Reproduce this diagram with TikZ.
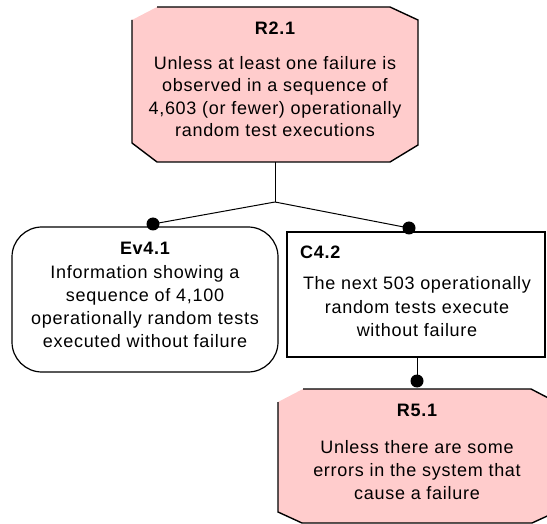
\documentclass[tikz,border=0pt]{standalone}
\usepackage{fontspec}
\setmainfont{Liberation Sans}[LetterSpace=4]
\usetikzlibrary{calc}
\definecolor{pinkfill}{HTML}{FFCCCC}
\begin{document}
\begin{tikzpicture}[x=1pt,y=-1pt,
  frame/.style={inner sep=0pt, outer sep=0pt, shape=rectangle},
  title/.style={font=\fontsize{18}{22}\selectfont\bfseries, inner sep=0pt},
  body/.style={font=\fontsize{18}{22.5}\selectfont, align=center, inner sep=0pt},
  conn/.style={line width=1pt, black},
  edge/.style={line width=1.4pt, black, line join=miter},
  dot/.style={circle, fill=black, inner sep=0pt, minimum size=13pt}]
\useasboundingbox (0,0) rectangle (547,524);
\clip (0,0) rectangle (547,524);

% ---------- R2.1 ----------
\node[frame, minimum width=286pt, minimum height=155pt] (r21) at (275,84.5) {};
\fill[pinkfill] ($(r21.north west)+(25,0)$) -- ($(r21.north east)+(-28,0)$)
  -- ($(r21.north east)+(0,13)$) -- ($(r21.south east)+(0,-17)$)
  -- ($(r21.south east)+(-28,0)$) -- ($(r21.south west)+(25,0)$)
  -- ($(r21.south west)+(0,-19)$) -- ($(r21.north west)+(0,13)$) -- cycle;
\draw[edge] ($(r21.north west)+(0,13)$) -- ($(r21.south west)+(0,-19)$)
  -- ($(r21.south west)+(25,0)$) -- ($(r21.south east)+(-28,0)$)
  -- ($(r21.south east)+(0,-17)$) -- ($(r21.north east)+(0,13)$)
  -- ($(r21.north east)+(-28,0)$) -- ($(r21.north west)+(25,0)$);
\node[title] (r21t) at (275,28) {R2.1};
\node[body] (r21b) at (275,96.5) {Unless at least one failure is\\observed in a sequence of\\4,603 (or fewer) operationally\\random test executions};

% ---------- Ev4.1 ----------
\node[frame, minimum width=266pt, minimum height=145pt] (ev41) at (145,299.5) {};
\draw[edge, line width=1.2pt, fill=white, rounded corners=30pt]
  (ev41.north west) rectangle (ev41.south east);
\node[title] (ev41t) at (145,248) {Ev4.1};
\node[body, font=\fontsize{18}{23}\selectfont] (ev41b) at (145,306.5) {Information showing a\\sequence of 4,100\\operationally random tests\\executed without failure};

% ---------- C4.2 ----------
\node[frame, draw, line width=1.2pt, fill=white, minimum width=258pt, minimum height=125pt] (c42) at (416,294.5) {};
\node[title, anchor=west] (c42t) at (300,252) {C4.2};
\node[body, font=\fontsize{18}{23.5}\selectfont] (c42b) at (417,307) {The next 503 operationally\\random tests execute\\without failure};

% ---------- R5.1 ----------
\node[frame, minimum width=278pt, minimum height=134pt] (r51) at (417,456) {};
\fill[pinkfill] ($(r51.north west)+(25,0)$) -- ($(r51.north east)+(-25,0)$)
  -- ($(r51.north east)+(0,13)$) -- ($(r51.south east)+(0,-11)$)
  -- ($(r51.south east)+(-24,0)$) -- ($(r51.south west)+(24,0)$)
  -- ($(r51.south west)+(0,-11)$) -- ($(r51.north west)+(0,13)$) -- cycle;
\draw[edge] ($(r51.north west)+(0,13)$) -- ($(r51.south west)+(0,-11)$)
  -- ($(r51.south west)+(24,0)$) -- ($(r51.south east)+(-24,0)$)
  -- ($(r51.south east)+(0,-11)$) -- ($(r51.north east)+(0,13)$)
  -- ($(r51.north east)+(-25,0)$) -- ($(r51.north west)+(25,0)$);
\node[title] (r51t) at (417,410) {R5.1};
\node[body, font=\fontsize{18}{23}\selectfont] (r51b) at (417,470) {Unless there are some\\errors in the system that\\cause a failure};

% ---------- connectors ----------
\coordinate (j) at (275,202);
\node[dot] (d1) at (153,224) {};
\node[dot] (d2) at (409,228) {};
\node[dot] (d3) at (417,381) {};
\draw[conn] (r21.south) -- (j);
\draw[conn] (j) -- (d1.center);
\draw[conn] (j) -- (d2.center);
\draw[conn] (c42.south -| d3) -- (d3.center);
\end{tikzpicture}
\end{document}
